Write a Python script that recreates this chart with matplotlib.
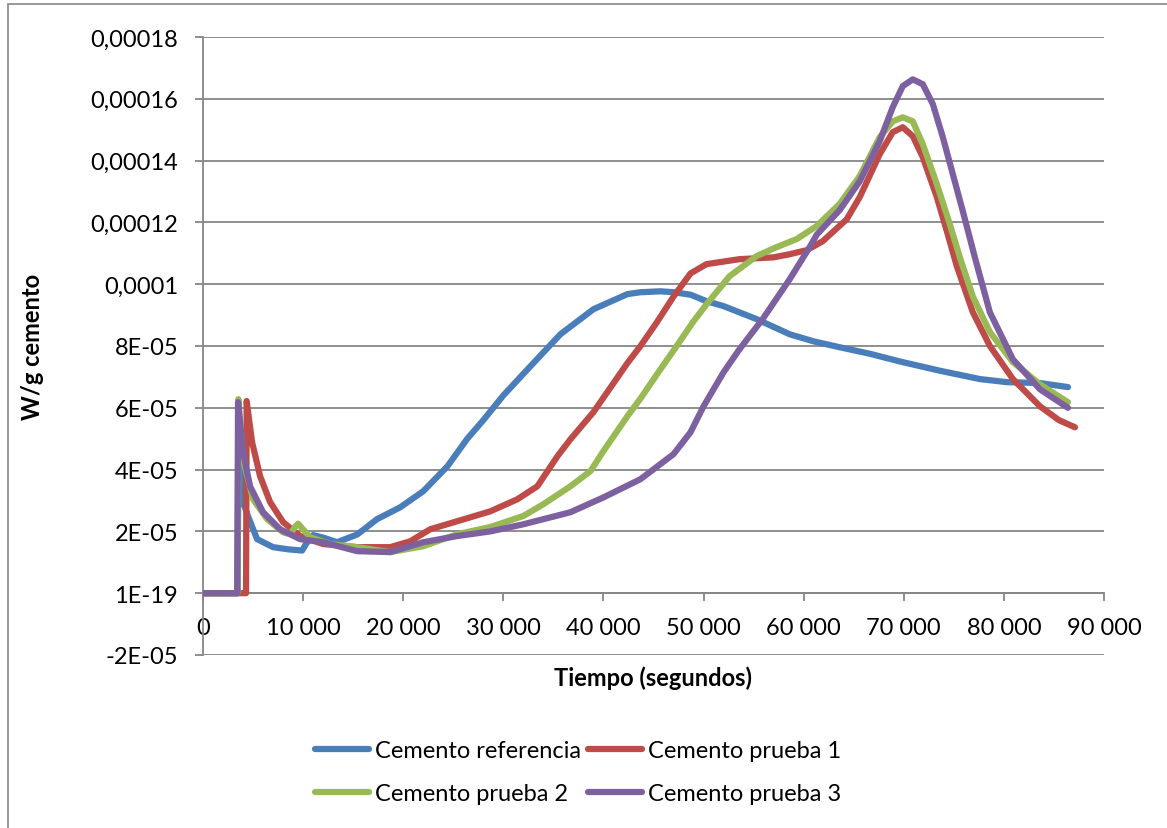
import matplotlib
matplotlib.use("Agg")
import matplotlib.pyplot as plt
from matplotlib.patches import Rectangle
from matplotlib.ticker import FuncFormatter

# Datos (tiempo en segundos, W/g cemento)
ref_x = [0, 3450, 3550, 4000, 4500, 5400, 7000, 8500, 9900, 10300, 11000, 12000, 13400,
         15400, 17400, 19700, 22000, 24400, 26400, 28000, 30000, 32000, 35700, 39000,
         42400, 43700, 45700, 47000, 48700, 50300, 52000, 55300, 58600, 61000, 63600,
         66600, 69600, 73600, 77600, 80300, 83600, 86400]
ref_y = [0, 0, 5.0e-5, 2.95e-5, 2.49e-5, 1.75e-5, 1.49e-5, 1.42e-5, 1.38e-5, 1.6e-5,
         1.88e-5, 1.8e-5, 1.65e-5, 1.9e-5, 2.4e-5, 2.78e-5, 3.3e-5, 4.1e-5, 5.0e-5,
         5.6e-5, 6.4e-5, 7.1e-5, 8.38e-5, 9.19e-5, 9.68e-5, 9.74e-5, 9.77e-5, 9.74e-5,
         9.66e-5, 9.45e-5, 9.29e-5, 8.87e-5, 8.38e-5, 8.15e-5, 7.96e-5, 7.75e-5, 7.5e-5,
         7.2e-5, 6.93e-5, 6.83e-5, 6.8e-5, 6.67e-5]

p1_x = [0, 4300, 4360, 4900, 5700, 6700, 8000, 9700, 12000, 15400, 18700, 20700, 22700,
        25400, 28700, 31400, 33400, 35400, 36700, 39000, 42400, 43700, 45300, 47000,
        48700, 50300, 53600, 57000, 58600, 60300, 61900, 64300, 65600, 67600, 68900,
        69900, 70900, 71900, 73300, 74300, 75300, 76900, 78600, 80900, 83600, 85500,
        87100]
p1_y = [0, 0, 6.22e-5, 4.89e-5, 3.79e-5, 2.95e-5, 2.3e-5, 1.85e-5, 1.59e-5, 1.49e-5,
        1.49e-5, 1.68e-5, 2.07e-5, 2.33e-5, 2.65e-5, 3.04e-5, 3.46e-5, 4.43e-5, 4.98e-5,
        5.86e-5, 7.45e-5, 8.0e-5, 8.75e-5, 9.6e-5, 1.035e-4, 1.065e-4, 1.081e-4,
        1.087e-4, 1.097e-4, 1.11e-4, 1.139e-4, 1.21e-4, 1.282e-4, 1.421e-4, 1.492e-4,
        1.508e-4, 1.479e-4, 1.411e-4, 1.282e-4, 1.172e-4, 1.058e-4, 9.09e-5, 8.0e-5,
        6.93e-5, 6.05e-5, 5.6e-5, 5.37e-5]

p2_x = [0, 3450, 3530, 4000, 5000, 6400, 8000, 8700, 9200, 9500, 9900, 10700, 12700,
        15400, 18700, 22000, 25400, 28700, 32000, 34000, 36700, 38700, 40000, 42400,
        43700, 45700, 47000, 49000, 50300, 52600, 55300, 57300, 59300, 61300, 63600,
        65600, 67600, 68900, 69900, 70900, 71900, 73300, 74600, 75600, 76900, 78600,
        80900, 83600, 86400]
p2_y = [0, 0, 6.28e-5, 4.34e-5, 3.04e-5, 2.4e-5, 1.97e-5, 1.91e-5, 2.15e-5, 2.25e-5,
        2.1e-5, 1.81e-5, 1.59e-5, 1.49e-5, 1.33e-5, 1.52e-5, 1.91e-5, 2.14e-5, 2.5e-5,
        2.88e-5, 3.46e-5, 3.95e-5, 4.6e-5, 5.73e-5, 6.3e-5, 7.25e-5, 7.85e-5, 8.8e-5,
        9.35e-5, 1.026e-4, 1.091e-4, 1.12e-4, 1.146e-4, 1.188e-4, 1.26e-4, 1.35e-4,
        1.476e-4, 1.527e-4, 1.54e-4, 1.527e-4, 1.453e-4, 1.324e-4, 1.194e-4, 1.087e-4,
        9.6e-5, 8.45e-5, 7.48e-5, 6.76e-5, 6.18e-5]

p3_x = [0, 3420, 3500, 4000, 4700, 6000, 7700, 9700, 12000, 15400, 18700, 22000, 25400,
        28700, 32000, 36700, 40000, 43700, 47000, 48700, 50000, 52000, 53600, 55900,
        58600, 60600, 61300, 63600, 65600, 67600, 68900, 69900, 70900, 71900, 72900,
        73900, 74900, 75900, 77100, 78600, 80900, 83600, 86400]
p3_y = [0, 0, 6.18e-5, 4.56e-5, 3.46e-5, 2.62e-5, 2.07e-5, 1.75e-5, 1.65e-5, 1.36e-5,
        1.33e-5, 1.65e-5, 1.85e-5, 2.0e-5, 2.23e-5, 2.62e-5, 3.1e-5, 3.69e-5, 4.5e-5,
        5.21e-5, 6.05e-5, 7.15e-5, 7.9e-5, 8.87e-5, 1.016e-4, 1.12e-4, 1.16e-4,
        1.24e-4, 1.333e-4, 1.463e-4, 1.573e-4, 1.641e-4, 1.663e-4, 1.647e-4, 1.583e-4,
        1.476e-4, 1.356e-4, 1.236e-4, 1.087e-4, 9.09e-5, 7.57e-5, 6.6e-5, 6.0e-5]

series_names = ["Cemento referencia", "Cemento prueba 1", "Cemento prueba 2", "Cemento prueba 3"]
y_ticks = [-2e-5, 0, 2e-5, 4e-5, 6e-5, 8e-5, 1e-4, 1.2e-4, 1.4e-4, 1.6e-4, 1.8e-4]
y_tick_labels = ["-2E-05", "1E-19", "2E-05", "4E-05", "6E-05", "8E-05", "0,0001",
                 "0,00012", "0,00014", "0,00016", "0,00018"]
x_ticks = [0, 10000, 20000, 30000, 40000, 50000, 60000, 70000, 80000, 90000]

colores = ["#4A7EBB", "#BE4B48", "#98B954", "#7D60A0"]
gris = "#868686"

plt.rcParams["font.family"] = ["Lato", "DejaVu Sans"]
fs = 17

fig = plt.figure(figsize=(11.67, 8.29), dpi=100)
ax = fig.add_axes([203 / 1167, 1 - 656 / 829, (1104 - 203) / 1167, (656 - 38) / 829])

datos = [(ref_x, ref_y), (p1_x, p1_y), (p2_x, p2_y), (p3_x, p3_y)]
lineas = []
for (xs, ys), nombre, c in zip(datos, series_names, colores):
    l, = ax.plot(xs, ys, color=c, lw=4.5, label=nombre, solid_joinstyle="round",
                 solid_capstyle="round", zorder=3)
    lineas.append(l)

ax.set_xlim(0, 90000)
ax.set_ylim(-2e-5, 1.8e-4)
ax.set_yticks(y_ticks)
ax.set_yticklabels(y_tick_labels)
ax.set_xticks(x_ticks)
ax.xaxis.set_major_formatter(FuncFormatter(lambda v, p: f"{int(v):,}".replace(",", " ")))

# Rejilla horizontal
ax.grid(axis="y", color=gris, lw=1.3, zorder=1)
ax.set_axisbelow(True)

for s in ["top", "right"]:
    ax.spines[s].set_visible(False)
ax.spines["bottom"].set_position(("data", 0))
ax.spines["bottom"].set_color(gris)
ax.spines["left"].set_color(gris)
ax.spines["bottom"].set_linewidth(1.3)
ax.spines["left"].set_linewidth(1.3)

ax.tick_params(axis="x", direction="out", length=6, width=1.3, color=gris, pad=11,
               labelsize=fs)
ax.tick_params(axis="y", direction="out", length=6, width=1.3, color=gris, pad=12,
               labelsize=fs)

fig.text(653 / 1167, 1 - 678 / 829, "Tiempo (segundos)", ha="center", va="center",
         fontsize=fs, fontweight="bold")
fig.text(33 / 1167, 1 - 347 / 829, "W/g cemento", ha="center", va="center",
         rotation=90, fontsize=fs, fontweight="bold")

# Leyenda en dos columnas, orden por filas
orden = [0, 2, 1, 3]
fig.legend([lineas[i] for i in orden], [series_names[i] for i in orden],
           loc="center", bbox_to_anchor=(578 / 1167, 1 - 773 / 829), ncol=2,
           frameon=False, fontsize=fs, handlelength=2.3, handletextpad=0.25,
           columnspacing=0.3, labelspacing=0.95)

# Borde del area del grafico
fig.patches.append(Rectangle((8 / 1167, -0.1), 2, 1 - 5 / 829 + 0.1,
                             transform=fig.transFigure, fill=False,
                             edgecolor=gris, lw=1.2))

fig.savefig("out.png", dpi=100)
